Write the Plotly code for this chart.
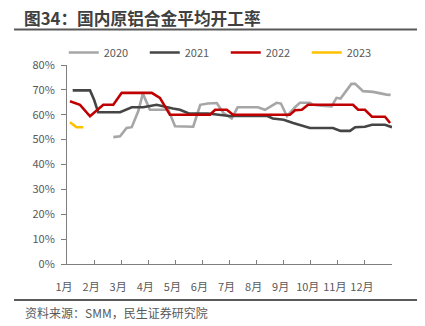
import plotly.graph_objects as go

# month position (1月 = 0) and utilisation rate (%)
x_2020 = [1.71, 1.96, 2.2, 2.39, 2.63, 2.80, 3.06, 3.31, 3.74, 3.99, 4.3, 4.66, 4.92, 5.2, 5.53, 5.77, 6.08, 6.3, 6.7, 7.05, 7.31, 7.74, 7.9, 8.12, 8.42, 8.6, 8.97, 9.08, 9.4, 9.77, 9.95, 10.1, 10.5, 10.64, 10.93, 11.3, 11.8, 11.95]
y_2020 = [51.0, 51.3, 54.7, 55.0, 61.4, 68.5, 62.0, 62.0, 62.0, 55.4, 55.2, 55.2, 64.0, 64.5, 64.7, 60.8, 58.5, 63.0, 63.0, 63.0, 62.0, 64.8, 64.5, 59.4, 63.0, 64.8, 64.8, 64.0, 63.6, 63.4, 66.8, 66.5, 72.4, 72.4, 69.5, 69.2, 68.1, 68.0]

x_2021 = [0.21, 0.85, 1.0, 1.15, 1.96, 2.39, 2.81, 3.31, 3.91, 4.17, 4.5, 5.2, 6.0, 7.4, 7.6, 8.0, 8.35, 8.6, 8.97, 9.82, 10.1, 10.45, 10.64, 11.0, 11.26, 11.74, 12.0]
y_2021 = [69.8, 69.8, 66.0, 61.0, 61.0, 63.0, 63.0, 64.0, 62.5, 62.0, 60.5, 60.5, 59.5, 59.5, 58.5, 58.0, 56.7, 55.8, 54.7, 54.7, 53.5, 53.5, 55.0, 55.2, 56.0, 56.0, 55.0]

x_2022 = [0.11, 0.48, 0.85, 1.34, 1.71, 2.02, 3.13, 3.43, 3.80, 5.28, 5.47, 5.90, 6.13, 8.23, 8.42, 8.67, 8.9, 10.56, 10.75, 11.0, 11.26, 11.74, 11.93]
y_2022 = [65.4, 64.0, 59.4, 64.0, 64.0, 68.8, 68.8, 66.8, 60.0, 60.0, 62.0, 62.0, 60.0, 60.0, 61.8, 62.0, 64.0, 64.0, 62.0, 62.0, 59.2, 59.2, 56.7]

x_2023 = [0.11, 0.35, 0.6]
y_2023 = [57.0, 55.0, 55.0]

month_labels = ["1月", "2月", "3月", "4月", "5月", "6月", "7月", "8月", "9月", "10月", "11月", "12月", ""]
tick_pos = list(range(13))

series = [
    ("2020", x_2020, y_2020, "#A6A6A6"),
    ("2021", x_2021, y_2021, "#454545"),
    ("2022", x_2022, y_2022, "#C00000"),
    ("2023", x_2023, y_2023, "#FFC000"),
]

FONT = "Noto Sans CJK SC, Microsoft YaHei, sans-serif"
fig = go.Figure()
for name, xs, ys, col in series:
    fig.add_trace(go.Scatter(x=xs, y=[v / 100 for v in ys], mode="lines", name=name,
                             line=dict(color=col, width=2.6)))

axis_col = "#7F7F7F"
fig.update_layout(
    width=425, height=326,
    margin=dict(l=67, r=33, t=65, b=62),
    paper_bgcolor="white", plot_bgcolor="white",
    font=dict(family=FONT, size=11, color="#595959"),
    showlegend=True,
    legend=dict(orientation="h", x=-0.01, xanchor="left", y=1.063, yanchor="middle",
                entrywidth=36, font=dict(size=11, color="#595959"),
                bgcolor="rgba(0,0,0,0)"),
    xaxis=dict(range=[0, 12], tickvals=tick_pos, ticktext=month_labels,
               showgrid=False, zeroline=False, showline=True, linecolor=axis_col, linewidth=1,
               ticks="inside", ticklen=4, tickcolor=axis_col, ticklabelstandoff=13,
               ticklabelshift=-3, tickfont=dict(size=11, color="#595959")),
    yaxis=dict(range=[0, 0.8], dtick=0.1, tickformat=".0%",
               showgrid=False, zeroline=False, showline=True, linecolor=axis_col, linewidth=1,
               ticks="outside", ticklen=5, tickcolor=axis_col, ticklabelstandoff=4,
               tickfont=dict(size=11, color="#595959")),
    annotations=[
        dict(text="<b>图34：国内原铝合金平均开工率</b>", xref="paper", yref="paper",
             x=-0.138, y=1.235, xanchor="left", yanchor="middle", showarrow=False,
             font=dict(family=FONT, size=16.7, color="#404040")),
        dict(text="资料来源：SMM，民生证券研究院", xref="paper", yref="paper",
             x=-0.135, y=-0.242, xanchor="left", yanchor="middle", showarrow=False,
             font=dict(family=FONT, size=12, color="#595959")),
    ],
    shapes=[
        dict(type="line", xref="paper", yref="paper", x0=-0.163, x1=1.077, y0=1.179, y1=1.179,
             line=dict(color="#595959", width=2)),
        dict(type="line", xref="paper", yref="paper", x0=-0.163, x1=1.077, y0=-0.181, y1=-0.181,
             line=dict(color="#595959", width=2)),
    ],
)

fig.write_html("out.html")
